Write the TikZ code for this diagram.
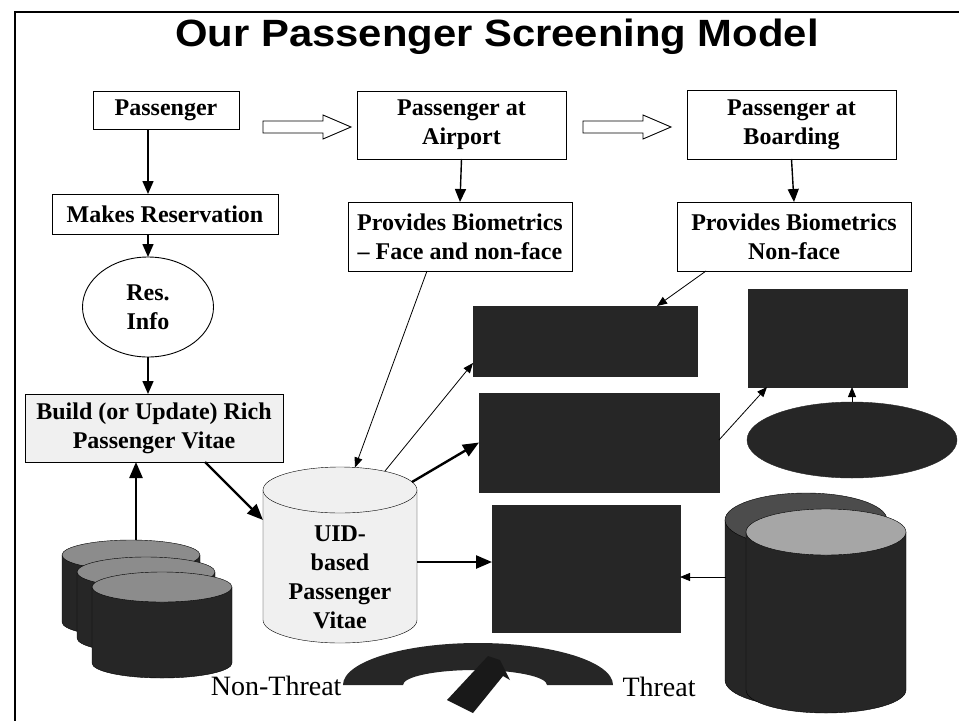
\documentclass[tikz,border=0pt]{standalone}
\usepackage{fontspec}
\setmainfont{Liberation Serif}
\newfontfamily\titlefont{Liberation Sans}
\usetikzlibrary{arrows.meta,shapes.geometric}

\newcommand{\drum}[7]{%
  \filldraw[fill=#6] ({#1-#3},#2) -- ({#1-#3},{#2-#5})
    arc[start angle=180,end angle=360,x radius=#3pt,y radius=#4pt] -- ({#1+#3},#2) -- cycle;
  \filldraw[fill=#7] (#1,#2) ellipse[x radius=#3pt,y radius=#4pt];}

\tikzset{
  bigarrow/.pic={\draw[line width=0.9pt] (0,-6) -- (60,-6) -- (60,-12) -- (88,0) -- (60,12) -- (60,6) -- (0,6) -- cycle;}
}

\begin{document}
\begin{tikzpicture}[x=1pt, y=1pt,
    box/.style={draw, line width=0.9pt, inner sep=0pt, outer sep=0pt, align=center,
      font=\fontsize{24}{29}\selectfont\bfseries},
    hidden/.style={fill=black!85, draw=black!85, inner sep=0pt, outer sep=0pt},
    thin/.style={line width=0.8pt, -{Triangle[length=10pt,width=8pt]}},
    mid/.style={line width=1.4pt, -{Triangle[length=13pt,width=11pt]}},
    thick/.style={line width=2.4pt, -{Triangle[length=16pt,width=13pt]}}]
    \useasboundingbox (0,0) rectangle (959,-721);
    \draw[line width=1.4pt] (959,-12) -- (15,-12) -- (15,-721);
    \node[font=\titlefont\fontsize{38}{40}\selectfont\bfseries] (title) at (497,-37)
      {\scalebox{1.1}[1]{Our Passenger Screening Model}};
    \node[box, minimum width=146pt, minimum height=38pt] (pass) at (166,-110) {Passenger};
    \node[box, minimum width=209pt, minimum height=68pt] (airport) at (461.5,-125) {Passenger at\\Airport};
    \node[box, minimum width=209pt, minimum height=69pt] (boarding) at (791.5,-124.5) {Passenger at\\Boarding};
    \pic at (263,-127) {bigarrow};
    \pic at (583,-127) {bigarrow};
    \node[box, minimum width=226pt, minimum height=40pt] (mkres) at (165,-214) {Makes Reservation};
    \node[box, ellipse, minimum width=131pt, minimum height=100pt] (resinfo) at (148,-307) {Res.\\Info};
    \node[box, minimum width=224pt, minimum height=69pt] (bioA) at (460,-236.5) {Provides Biometrics\\-- Face and non-face};
    \node[box, minimum width=234pt, minimum height=69pt] (bioB) at (794,-236.5) {Provides Biometrics\\Non-face};
    \node[box, fill=gray!12, minimum width=258pt, minimum height=68pt] (build) at (154,-428) {Build (or Update) Rich\\Passenger Vitae};
    \node[hidden, minimum width=224pt, minimum height=70pt] (r1) at (585,-341) {};
    \node[hidden, minimum width=240pt, minimum height=99pt] (r2) at (599,-442.5) {};
    \node[hidden, minimum width=159pt, minimum height=98pt] (r3) at (827.5,-338) {};
    \node[hidden, minimum width=188pt, minimum height=127pt] (r4) at (586,-568.5) {};
    \node[hidden, ellipse, minimum width=210pt, minimum height=76pt] (oval) at (852,-440) {};
    \drum{131}{-555}{69}{15}{67}{black!85}{black!45}
    \drum{146}{-572}{69}{15}{66}{black!85}{black!45}
    \drum{162}{-587}{70}{15}{76}{black!85}{black!45}
    \coordinate (stk) at (136,-540);
    \drum{340}{-490}{77}{23}{130}{gray!12}{gray!12}
    \node[box, draw=none] (uid) at (340,-577) {UID-\\based\\Passenger\\Vitae};
    \coordinate (uidA) at (355,-467.5);
    \coordinate (uidB) at (385,-471);
    \coordinate (uidC) at (412,-482);
    \coordinate (uidD) at (417,-562);
    \coordinate (uidE) at (263,-520);
    \drum{806}{-520}{81}{27}{160}{black!85}{black!70}
    \drum{826}{-532}{80}{23}{158}{black!85}{black!35}
    \coordinate (bigc) at (726,-577);
    \fill[black!85] (343,-685) arc[start angle=180,end angle=0,x radius=135pt,y radius=42pt]
      -- (547,-685) arc[start angle=0,end angle=180,x radius=72pt,y radius=15pt] -- cycle;
    \fill[black!90] (447,-700) -- (473,-713) -- (503,-676) -- (510,-680) -- (500,-660) -- (488,-656) -- cycle;
    \node[anchor=east, font=\fontsize{28}{30}\selectfont] (nonthreat) at (345,-686) {Non-Threat};
    \node[anchor=west, font=\fontsize{28}{30}\selectfont] (threat) at (619,-687) {Threat};
    \draw[mid] (resinfo.north |- pass.south) -- (resinfo.north |- mkres.north);
    \draw[mid] (resinfo.north |- mkres.south) -- (resinfo.north);
    \draw[mid] (resinfo.south) -- (resinfo.south |- build.north);
    \draw[mid] (airport.south) -- (bioA.north);
    \draw[mid] (boarding.south) -- (bioB.north);
    \draw[thin] ([xshift=29pt]bioB.south west) -- ([xshift=184pt]r1.north west);
    \draw[thin] ([xshift=-33pt]bioA.south) -- (uidA);
    \draw[thin] (uidB) -- ([yshift=-22pt]r1.west);
    \draw[thick] (uidC) -- (r2.west);
    \draw[thick] (uidD) -- (uidD -| r4.west);
    \draw[thick] ([xshift=51pt]build.south) -- (uidE);
    \draw[thick] (stk) -- (stk |- build.south);
    \draw[thin] ([yshift=2.5pt]r2.east) -- ([xshift=19pt]r3.south west);
    \draw[thin] (oval.north) -- (oval.north |- r3.south);
    \draw[thin] (bigc) -- (bigc -| r4.east);
\end{tikzpicture}
\end{document}
